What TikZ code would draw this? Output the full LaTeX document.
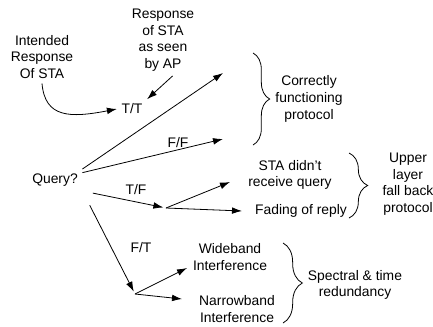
\documentclass[tikz,border=0pt]{standalone}
\usepackage{fontspec}
\setmainfont{Liberation Sans}
\usetikzlibrary{positioning}
\usetikzlibrary{decorations.pathreplacing}
\usetikzlibrary{arrows.meta}
\tikzset{>=stealth}
\tikzstyle{line} = [draw, line width=0.6pt, -{Latex[length=7.5pt,width=5pt]}]
\tikzstyle{brace} = [draw, line width=0.6pt, decorate]

\begin{document}
\begin{tikzpicture}[x=0.75pt, y=-0.75pt,
            every node/.style={align=center, font=\fontsize{10.4}{12.5}\selectfont}]
            \useasboundingbox (0,0) rectangle (433,326);
            \node (intended) at (42,57) {Intended\\Response\\Of STA};
            \node (seen) at (163,40) {Response\\of STA\\as seen\\by AP};
            \node (tt) at (132,109) {T/T};
            \node (query) at (55,180) {Query?};
            \node (ff) at (178,143) {F/F};
            \node (tf) at (136,190) {T/F};
            \node (ft) at (141,248) {F/T};
            \node (norecv) at (290,175) {STA didn't\\receive query};
            \node (fade) at (301,211) {Fading of reply};
            \node (wide) at (230,257) {Wideband\\Interference};
            \node (narrow) at (237,309) {Narrowband\\Interference};
            \node (correct) at (309,99) {Correctly\\functioning\\protocol};
            \node (upper) at (408,184) {Upper\\layer\\fall back\\protocol};
            \node (spectral) at (355,285) {Spectral \& time\\redundancy};
            %% free ends and forks
            \coordinate (ttend) at (223,73);
            \coordinate (ffend) at (223,139);
            \coordinate (tffork) at (166,208);
            \coordinate (ftfork) at (135,294);
            \coordinate (norecvend) at (230,182);
            \coordinate (fadeend) at (242,211);
            \coordinate (wideend) at (187,268);
            \coordinate (narrowend) at (182,299);
            %% Legend arrows
            \path [line] (intended.south) .. controls (45,118) and (70,118) .. (tt.west);
            \path [line] (seen.-75) -- (tt.north east);
            %% Outcomes of the query
            \path [line] (query.north east) -- (ttend);
            \path [line] (query.15) -- (ffend);
            \path [line, shorten <=8pt, shorten >=2pt] (query.south east) -- (tffork);
            \path [line] (tffork) -- (norecvend);
            \path [line] (tffork) -- (fadeend);
            \path [line, shorten <=12pt, shorten >=2pt] (query.south east) -- (ftfork);
            \path [line] (ftfork) -- (wideend);
            \path [line] (ftfork) -- (narrowend);
            %% Braces
            \coordinate (b1top) at (253,53);
            \coordinate (b1bot) at (253,145);
            \coordinate (b2top) at (349,153);
            \coordinate (b2bot) at (349,218);
            \coordinate (b3top) at (283,243);
            \coordinate (b3bot) at (283,323);
            \path [brace, decoration={brace, amplitude=12.5pt}] (b1top) -- (b1bot);
            \path [brace, decoration={brace, amplitude=14pt}] (b2top) -- (b2bot);
            \path [brace, decoration={brace, amplitude=14.5pt}] (b3top) -- (b3bot);
        \end{tikzpicture}
\end{document}
